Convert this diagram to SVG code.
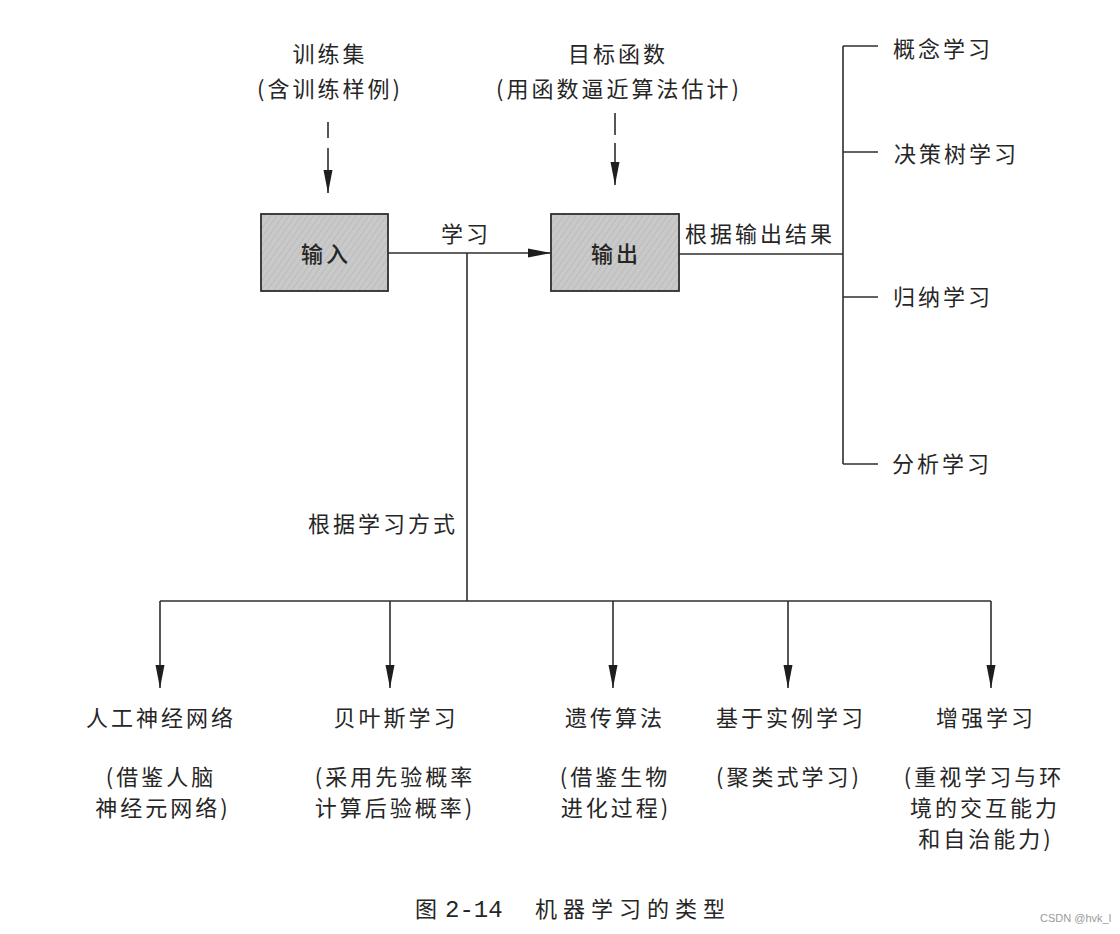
<svg xmlns="http://www.w3.org/2000/svg" width="1120" height="934" viewBox="0 0 1120 934">
<style>
text{font-family:"Noto Sans CJK SC","Liberation Sans",sans-serif;font-size:22px;fill:#262626;letter-spacing:3px}
.m{text-anchor:middle}
.e{text-anchor:end}
.ln{stroke:#2e2e2e;stroke-width:1.6;fill:none}
.box{fill:url(#hatch);stroke:#2e2e2e;stroke-width:1.8}
.cap{font-size:22px;letter-spacing:6px}
.num{font-family:"Liberation Mono",monospace;font-size:24px;letter-spacing:0}
.wm{font-family:"Liberation Sans",sans-serif;font-size:11px;fill:#9a9a9a;letter-spacing:0}
</style>
<defs>
<pattern id="hatch" width="5" height="5" patternUnits="userSpaceOnUse" patternTransform="rotate(35)">
<rect width="5" height="5" fill="#c9c9c9"/>
<line x1="0" y1="0" x2="0" y2="5" stroke="#b3b3b3" stroke-width="1.2"/>
</pattern>
<marker id="ah" markerWidth="24" markerHeight="10" refX="23" refY="5" orient="auto" markerUnits="userSpaceOnUse">
<path d="M0,0.5 L23,5 L0,9.5 Z" fill="#1e1e1e"/>
</marker>
</defs>
<rect width="1120" height="934" fill="#ffffff"/>

<g id="node-train">
<text class="m" x="330" y="62">训练集</text>
<text class="m" x="330" y="97">(含训练样例)</text>
</g>
<g id="node-target">
<text class="m" x="618" y="62">目标函数</text>
<text class="m" x="619" y="97">(用函数逼近算法估计)</text>
</g>
<g id="node-input">
<rect class="box" x="261" y="214" width="127" height="77"/>
<text class="m" x="326" y="262" style="font-weight:500">输入</text>
</g>
<g id="node-output">
<rect class="box" x="551" y="214" width="128" height="77"/>
<text class="m" x="616" y="262" style="font-weight:500">输出</text>
</g>

<g id="connectors">
<line class="ln" x1="328" y1="122" x2="328" y2="193" stroke-dasharray="16 10 200" marker-end="url(#ah)"/>
<line class="ln" x1="615" y1="113" x2="615" y2="185" stroke-dasharray="22 8 200" marker-end="url(#ah)"/>
<line class="ln" x1="388" y1="253" x2="551" y2="253" marker-end="url(#ah)"/>
<line class="ln" x1="467" y1="253" x2="467" y2="601"/>
<line class="ln" x1="679" y1="254" x2="843" y2="254"/>
<line class="ln" x1="843" y1="46" x2="843" y2="464"/>
<line class="ln" x1="843" y1="46" x2="878" y2="46"/>
<line class="ln" x1="843" y1="152" x2="878" y2="152"/>
<line class="ln" x1="843" y1="297" x2="878" y2="297"/>
<line class="ln" x1="843" y1="464" x2="878" y2="464"/>
<line class="ln" x1="160" y1="601" x2="991" y2="601"/>
<line class="ln" x1="160" y1="601" x2="160" y2="688" marker-end="url(#ah)"/>
<line class="ln" x1="390" y1="601" x2="390" y2="688" marker-end="url(#ah)"/>
<line class="ln" x1="613" y1="601" x2="613" y2="688" marker-end="url(#ah)"/>
<line class="ln" x1="788" y1="601" x2="788" y2="688" marker-end="url(#ah)"/>
<line class="ln" x1="991" y1="601" x2="991" y2="688" marker-end="url(#ah)"/>
<text class="m" x="466" y="242">学习</text>
<text x="685" y="242">根据输出结果</text>
<text class="e" x="458" y="532">根据学习方式</text>
</g>

<g id="node-concept"><text x="893" y="57">概念学习</text></g>
<g id="node-dtree"><text x="894" y="162">决策树学习</text></g>
<g id="node-induct"><text x="893" y="305">归纳学习</text></g>
<g id="node-analy"><text x="892" y="472">分析学习</text></g>

<g id="node-ann">
<text class="m" x="161" y="726">人工神经网络</text>
<text class="m" x="161" y="785">(借鉴人脑</text>
<text class="m" x="163" y="816">神经元网络)</text>
</g>
<g id="node-bayes">
<text class="m" x="396" y="726">贝叶斯学习</text>
<text class="m" x="395" y="785">(采用先验概率</text>
<text class="m" x="395" y="816">计算后验概率)</text>
</g>
<g id="node-ga">
<text class="m" x="615" y="726">遗传算法</text>
<text class="m" x="615" y="785">(借鉴生物</text>
<text class="m" x="616" y="816">进化过程)</text>
</g>
<g id="node-ibl">
<text class="m" x="791" y="726">基于实例学习</text>
<text class="m" x="789" y="785">(聚类式学习)</text>
</g>
<g id="node-rl">
<text class="m" x="986" y="726">增强学习</text>
<text class="m" x="984" y="785">(重视学习与环</text>
<text class="m" x="985" y="816">境的交互能力</text>
<text class="m" x="986" y="847">和自治能力)</text>
</g>

<text class="cap" x="415" y="917">图</text>
<text class="num" x="445" y="917">2-14</text>
<text class="cap" x="535" y="917">机器学习的类型</text>
<text class="wm" x="1040" y="922">CSDN @hvk_l</text>
</svg>
